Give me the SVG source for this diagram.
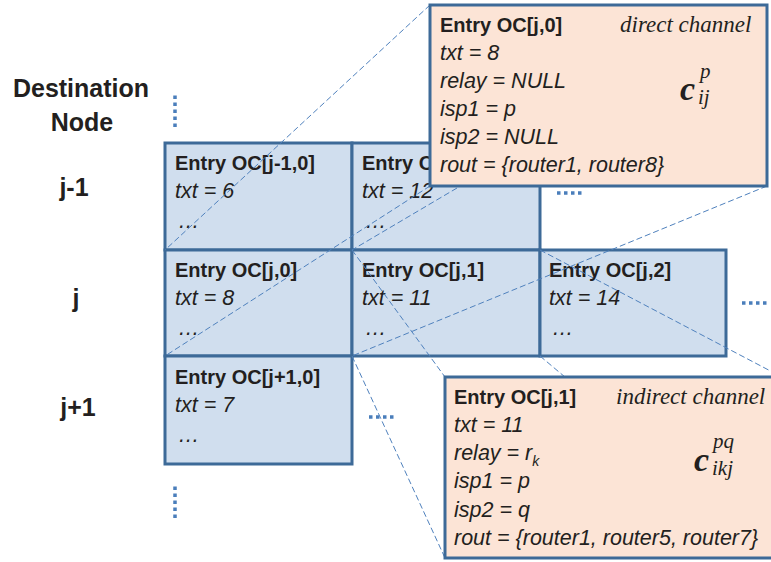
<svg xmlns="http://www.w3.org/2000/svg" width="771" height="562" viewBox="0 0 771 562">
<style>
.cell{fill:#D0DEEE;stroke:#3D6A98;stroke-width:3}
.box{fill:#FCE4D6;stroke:#3D6A98;stroke-width:3}
.b{font-family:"Liberation Sans",Arial,sans-serif;font-weight:bold;font-size:20px;fill:#231F20}
.i{font-family:"Liberation Sans",Arial,sans-serif;font-style:italic;font-size:21.5px;fill:#231F20}
.lab{font-family:"Liberation Sans",Arial,sans-serif;font-weight:bold;font-size:25px;fill:#231F20;text-anchor:middle}
.ser{font-family:"Liberation Serif","Times New Roman",serif;font-style:italic;font-size:23px;fill:#231F20}
.m{font-family:"Liberation Serif","Times New Roman",serif;font-style:italic;fill:#231F20}
.dash{stroke:#4F81BD;stroke-width:1;stroke-dasharray:6 3;fill:none}
.dots{stroke:#4A7EBB;stroke-width:3.5;stroke-dasharray:3.5 3.5;fill:none}
</style>
<defs>
<clipPath id="under"><rect x="352" y="143" width="77" height="107"/></clipPath>
</defs>

<g id="labels">
<text class="lab" x="81" y="97">Destination</text>
<text class="lab" x="82" y="131">Node</text>
<text class="lab" x="74" y="196">j-1</text>
<text class="lab" x="76" y="307">j</text>
<text class="lab" x="78" y="416">j+1</text>
</g>

<g id="cell-jm1-0">
<rect class="cell" x="165" y="143" width="187" height="107"/>
<text class="b" x="175" y="170">Entry OC[j-1,0]</text>
<text class="i" x="175" y="198">txt = 6</text>
<text class="i" x="178" y="228">…</text>
</g>
<g id="cell-jm1-1">
<rect class="cell" x="352" y="143" width="188" height="107"/>
<text class="b" x="362" y="170" clip-path="url(#under)">Entry OC</text>
<text class="i" x="362" y="198">txt = 12</text>
<text class="i" x="365" y="228">…</text>
</g>
<g id="cell-j-0">
<rect class="cell" x="165" y="250" width="187" height="106"/>
<text class="b" x="175" y="277">Entry OC[j,0]</text>
<text class="i" x="175" y="305">txt = 8</text>
<text class="i" x="178" y="335">…</text>
</g>
<g id="cell-j-1">
<rect class="cell" x="352" y="250" width="188" height="106"/>
<text class="b" x="362" y="277">Entry OC[j,1]</text>
<text class="i" x="362" y="305">txt = 11</text>
<text class="i" x="365" y="335">…</text>
</g>
<g id="cell-j-2">
<rect class="cell" x="540" y="250" width="186" height="106"/>
<text class="b" x="549" y="277">Entry OC[j,2]</text>
<text class="i" x="549" y="305">txt = 14</text>
<text class="i" x="552" y="335">…</text>
</g>
<g id="cell-jp1-0">
<rect class="cell" x="165" y="356" width="187" height="108"/>
<text class="b" x="175" y="384">Entry OC[j+1,0]</text>
<text class="i" x="175" y="412">txt = 7</text>
<text class="i" x="178" y="442">…</text>
</g>

<g id="ellipses">
<line class="dots" x1="175" y1="95.5" x2="175" y2="129"/>
<line class="dots" x1="175" y1="486.5" x2="175" y2="520"/>
<line class="dots" x1="557" y1="193" x2="584" y2="193"/>
<line class="dots" x1="742" y1="303" x2="769" y2="303"/>
<line class="dots" x1="369" y1="417" x2="396" y2="417"/>
</g>

<g id="connectors">
<line class="dash" x1="430" y1="5" x2="165" y2="250"/>
<line class="dash" x1="767" y1="5" x2="352" y2="250"/>
<line class="dash" x1="430" y1="186" x2="165" y2="356"/>
<line class="dash" x1="767" y1="186" x2="352" y2="356"/>
<line class="dash" x1="352" y1="250" x2="445" y2="377"/>
<line class="dash" x1="352" y1="356" x2="445" y2="558"/>
<line class="dash" x1="540" y1="250" x2="780" y2="376"/>
<line class="dash" x1="540" y1="356" x2="780" y2="558"/>
</g>

<g id="detail-direct">
<rect class="box" x="430" y="5" width="337" height="181"/>
<text class="b" x="440" y="32">Entry OC[j,0]</text>
<text class="ser" x="620" y="32">direct channel</text>
<text class="i" x="440" y="60">txt = 8</text>
<text class="i" x="440" y="88">relay = NULL</text>
<text class="i" x="440" y="116">isp1 = p</text>
<text class="i" x="440" y="144">isp2 = NULL</text>
<text class="i" x="440" y="172">rout = {router1, router8}</text>
<text class="m" x="680" y="100" font-size="34" font-weight="bold">c</text>
<text class="m" x="700" y="78" font-size="21">p</text>
<text class="m" x="698" y="104" font-size="21">ij</text>
</g>

<g id="detail-indirect">
<rect class="box" x="445" y="377" width="340" height="181"/>
<text class="b" x="454" y="404">Entry OC[j,1]</text>
<text class="ser" x="616" y="404">indirect channel</text>
<text class="i" x="454" y="432">txt = 11</text>
<text class="i" x="454" y="460">relay = r<tspan font-size="14" dy="6">k</tspan></text>
<text class="i" x="454" y="488">isp1 = p</text>
<text class="i" x="454" y="517">isp2 = q</text>
<text class="i" x="454" y="545">rout = {router1, router5, router7}</text>
<text class="m" x="694" y="471" font-size="34" font-weight="bold">c</text>
<text class="m" x="713" y="448" font-size="21">pq</text>
<text class="m" x="712" y="475" font-size="21">ikj</text>
</g>
</svg>
